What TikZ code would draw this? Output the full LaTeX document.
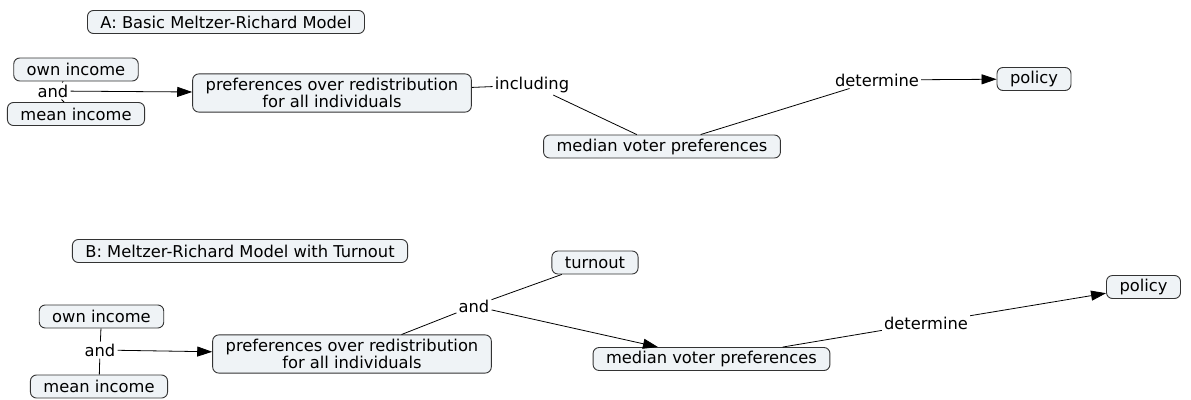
\documentclass[tikz,border=0pt]{standalone}
\usepackage{fontspec}
\setmainfont{DejaVu Sans}
\usetikzlibrary{arrows.meta}
\definecolor{conceptfill}{RGB}{239,243,246}
\begin{document}
\begin{tikzpicture}[x=1pt,y=-1pt,font=\fontsize{16.3}{17.5}\selectfont,
  concept/.style={draw=black!80,fill=conceptfill,line width=0.9pt,rounded corners=6pt,
    inner xsep=13pt,inner ysep=2pt,minimum height=23pt,align=center},
  twoline/.style={inner ysep=4pt},
  linkword/.style={inner sep=2pt},
  link/.style={line width=0.8pt},
  linkto/.style={link,-{Triangle[length=15pt,width=10pt]}}]
\useasboundingbox (0,0) rectangle (1191,399);
% A: basic model
\node[concept] (titleA) at (226,22) {A: Basic Meltzer-Richard Model};
\node[concept] (ownA) at (76,69.5) {own income};
\node[concept] (meanA) at (76,114) {mean income};
\node[linkword] (andA) at (53,91) {and};
\node[concept,twoline] (prefA) at (332,93) {preferences over redistribution\\for all individuals};
\node[linkword] (incA) at (532,85) {including};
\node[concept] (medA) at (662,146.5) {median voter preferences};
\node[linkword] (detA) at (877,80) {determine};
\node[concept] (polA) at (1034,79) {policy};
\draw[link] (ownA) -- (andA);
\draw[link] (andA) -- (meanA);
\draw[linkto] (andA) -- (prefA);
\draw[link] (prefA) -- (incA);
\draw[link] (incA) -- (medA);
\draw[link] (medA) -- (detA);
\draw[linkto] (detA) -- (polA);
% B: with turnout
\node[concept] (titleB) at (240,251) {B: Meltzer-Richard Model with Turnout};
\node[concept] (ownB) at (101.5,316.5) {own income};
\node[concept] (meanB) at (99,386.5) {mean income};
\node[linkword] (andB) at (100,350) {and};
\node[concept,twoline] (prefB) at (352,354) {preferences over redistribution\\for all individuals};
\node[linkword] (andC) at (474,306) {and};
\node[concept] (turnB) at (595,262.5) {turnout};
\node[concept] (medB) at (711.5,359) {median voter preferences};
\node[linkword] (detB) at (926,323) {determine};
\node[concept] (polB) at (1143.5,287) {policy};
\draw[link] (ownB) -- (andB);
\draw[link] (andB) -- (meanB);
\draw[linkto] (andB) -- (prefB);
\draw[link] (prefB) -- (andC);
\draw[link] (andC) -- (turnB);
\draw[linkto] (andC) -- (medB);
\draw[link] (medB) -- (detB);
\draw[linkto] (detB) -- (polB);
\end{tikzpicture}
\end{document}
